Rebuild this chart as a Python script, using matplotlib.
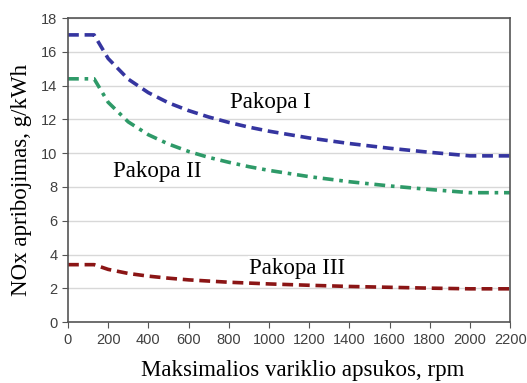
import numpy as np
import matplotlib.pyplot as plt

# values (rpm vs g/kWh)
rpm = [0, 130, 200, 300, 400, 500, 600, 700, 800, 900, 1000, 1200, 1400, 1600, 1800, 2000, 2200]
tier1 = [17.0, 17.0, 15.6, 14.38, 13.58, 12.98, 12.52, 12.14, 11.82, 11.54, 11.30, 10.90, 10.57, 10.29, 10.05, 9.84, 9.84]
tier2 = [14.4, 14.4, 13.01, 11.85, 11.09, 10.54, 10.10, 9.75, 9.46, 9.20, 8.98, 8.61, 8.31, 8.06, 7.85, 7.66, 7.66]
tier3 = [3.4, 3.4, 3.12, 2.88, 2.72, 2.60, 2.50, 2.43, 2.36, 2.31, 2.26, 2.18, 2.11, 2.06, 2.01, 1.97, 1.97]

labels = ['Pakopa I', 'Pakopa II', 'Pakopa III']
label_pos = [(1005, 13.0), (443, 8.9), (1140, 3.2)]

fig = plt.figure(figsize=(5.27, 3.83), dpi=100)
ax = fig.add_axes([0.129, 0.159, 0.839, 0.794])

ax.plot(rpm, tier1, color='#3535a0', lw=2.6, dashes=(3, 1.6))
ax.plot(rpm, tier2, color='#2e9a68', lw=2.6, dashes=(3, 1.6, 1, 1.6))
ax.plot(rpm, tier3, color='#8b1515', lw=2.6, dashes=(3, 1.6))

for lab, (x, y) in zip(labels, label_pos):
    ax.text(x, y, lab, ha='center', va='center', fontsize=16.5,
            family='Liberation Serif', color='black',
            bbox=dict(facecolor='white', edgecolor='none', pad=1))

ax.set_xlim(0, 2200)
ax.set_ylim(0, 18)
ax.set_xticks(np.arange(0, 2201, 200))
ax.set_yticks(np.arange(0, 19, 2))
ax.yaxis.grid(True, color='#d8d8d8', lw=1)
ax.set_axisbelow(True)
for s in ax.spines.values():
    s.set_color('#555555')
    s.set_linewidth(1.2)
ax.tick_params(direction='out', length=4, color='#555555', labelsize=10.5,
               labelcolor='#404040')
for t in ax.get_xticklabels() + ax.get_yticklabels():
    t.set_family('Liberation Sans')

ax.set_xlabel('Maksimalios variklio apsukos, rpm', fontsize=16.5,
              family='Liberation Serif')
ax.set_ylabel('NOx apribojimas, g/kWh', fontsize=16.5,
              family='Liberation Serif')
ax.xaxis.set_label_coords(0.53, -0.124)
ax.yaxis.set_label_coords(-0.082, 0.467)

fig.savefig('out.png', dpi=100)
